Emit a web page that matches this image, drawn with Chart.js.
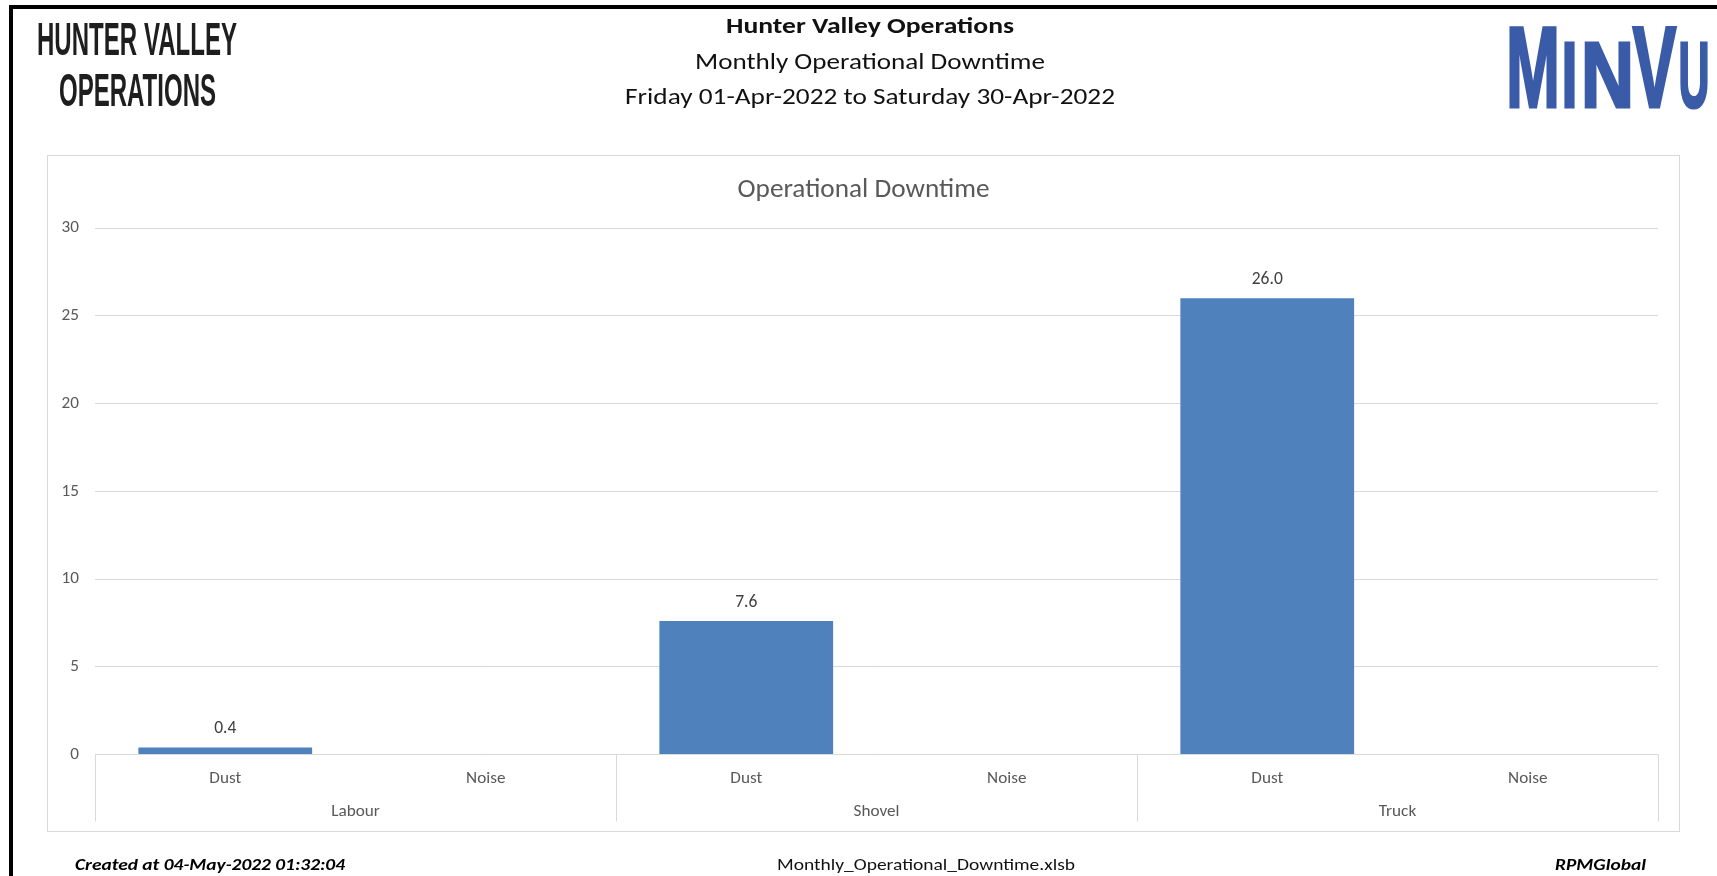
<!DOCTYPE html>
<html>
<head>
<meta charset="utf-8">
<script src="https://cdn.jsdelivr.net/npm/chart.js@4.4.1/dist/chart.umd.min.js"></script>
<style>
html,body{margin:0;padding:0;background:#fff;}
body{width:1717px;height:876px;position:relative;overflow:hidden;}
#frame{position:absolute;left:9px;top:5px;width:2000px;height:1000px;border-left:4px solid #000;border-top:4px solid #000;}
#box{position:absolute;left:47px;top:155px;width:1631px;height:675px;border:1px solid #d9d9d9;}
#chart{position:absolute;left:0;top:0;}
svg{position:absolute;left:0;top:0;}
</style>
</head>
<body>
<div id="frame"></div>
<div id="box"><canvas id="chart" width="1631" height="675"></canvas></div>
<svg width="1717" height="876" xmlns="http://www.w3.org/2000/svg">
  <g font-family="'Liberation Sans Narrow','Liberation Sans',Arial,sans-serif" font-weight="bold" fill="#1e1e1e">
    <text x="37" y="55" font-size="46" textLength="200" lengthAdjust="spacingAndGlyphs">HUNTER VALLEY</text>
    <text x="59" y="106" font-size="46" textLength="157" lengthAdjust="spacingAndGlyphs">OPERATIONS</text>
  </g>
  <g font-family="'Liberation Sans','Arial',sans-serif" font-weight="bold" fill="#3A5BA7" stroke="#3A5BA7" stroke-width="3" stroke-linejoin="miter">
    <text class="fit" data-x="1506" data-w="54" y="106.5" font-size="115">M</text>
    <text class="fit" data-x="1561.5" data-w="16" y="106.5" font-size="93">I</text>
    <text class="fit" data-x="1581" data-w="53" y="106.5" font-size="93">N</text>
    <text class="fit" data-x="1632.5" data-w="44" y="106.5" font-size="115">V</text>
    <text class="fit" data-x="1678.5" data-w="31" y="106.5" font-size="93">U</text>
  </g>
  <g font-family="Carlito, Lato, sans-serif" fill="#111" text-anchor="middle">
    <text x="870" y="33" font-size="23" font-weight="bold" textLength="288" lengthAdjust="spacingAndGlyphs">Hunter Valley Operations</text>
    <text x="870" y="69" font-size="23" textLength="350" lengthAdjust="spacingAndGlyphs">Monthly Operational Downtime</text>
    <text x="870" y="104" font-size="23" textLength="490" lengthAdjust="spacingAndGlyphs">Friday 01-Apr-2022 to Saturday 30-Apr-2022</text>
  </g>
  <g font-family="Carlito, Lato, sans-serif" fill="#000" font-size="17">
    <text x="75" y="870" font-style="italic" font-weight="bold" textLength="270" lengthAdjust="spacingAndGlyphs">Created at 04-May-2022 01:32:04</text>
    <text x="926" y="870" text-anchor="middle" textLength="298" lengthAdjust="spacingAndGlyphs" fill="#111">Monthly_Operational_Downtime.xlsb</text>
    <text x="1646" y="870" text-anchor="end" font-style="italic" font-weight="bold" textLength="91" lengthAdjust="spacingAndGlyphs">RPMGlobal</text>
  </g>
</svg>
<script>
// ---- data ----
const categories = ['Dust', 'Noise', 'Dust', 'Noise', 'Dust', 'Noise'];
const categoryGroups = ['Labour', 'Labour', 'Shovel', 'Shovel', 'Truck', 'Truck'];
const downtime = [0.4, null, 7.6, null, 26.0, null];
const yTickValues = [0, 5, 10, 15, 20, 25, 30];
const chartTitle = 'Operational Downtime';

// ---- logo letter fitting (layout only) ----
document.querySelectorAll('text.fit').forEach(el => {
  const x = parseFloat(el.dataset.x), w = parseFloat(el.dataset.w);
  const y = el.getAttribute('y');
  const nat = el.getComputedTextLength();
  el.setAttribute('x', 0);
  el.setAttribute('y', 0);
  el.setAttribute('transform', 'translate(' + x + ',' + y + ') scale(' + (w / nat) + ',1)');
});

// ---- styling helpers ----
const FONT = 'Carlito, Lato, sans-serif';
function fitSize(text, weight, target) {
  const c = document.createElement('canvas').getContext('2d');
  c.font = weight + ' 100px ' + FONT;
  return 100 * target / c.measureText(text).width;
}
const titleSize = fitSize(chartTitle, 'normal', 252);
const tickSize = fitSize('Shovel', 'normal', 46);
const labelSize = fitSize('26.0', 'normal', 31);

const groupPlugin = {
  id: 'groupAxis',
  afterDraw(chart) {
    const { ctx, chartArea, scales: { x } } = chart;
    const half = (x.getPixelForValue(1) - x.getPixelForValue(0)) / 2;
    const y0 = chartArea.bottom;
    const spans = [];
    categoryGroups.forEach((g, i) => {
      if (!spans.length || spans[spans.length - 1].g !== g) spans.push({ g, s: i, e: i });
      else spans[spans.length - 1].e = i;
    });
    ctx.save();
    ctx.strokeStyle = '#d9d9d9';
    ctx.lineWidth = 1;
    const edges = [x.getPixelForValue(spans[0].s) - half].concat(spans.map(s => x.getPixelForValue(s.e) + half));
    edges.forEach(px => {
      const p = Math.round(px) + 0.5;
      ctx.beginPath();
      ctx.moveTo(p, y0);
      ctx.lineTo(p, y0 + 67);
      ctx.stroke();
    });
    ctx.fillStyle = '#595959';
    ctx.font = tickSize + 'px ' + FONT;
    ctx.textAlign = 'center';
    ctx.textBaseline = 'middle';
    spans.forEach(s => ctx.fillText(s.g, (x.getPixelForValue(s.s) + x.getPixelForValue(s.e)) / 2, y0 + 57.5));
    ctx.restore();
  }
};

const valueLabelPlugin = {
  id: 'valueLabels',
  afterDatasetsDraw(chart) {
    const { ctx } = chart;
    const meta = chart.getDatasetMeta(0);
    ctx.save();
    ctx.fillStyle = '#404040';
    ctx.font = labelSize + 'px ' + FONT;
    ctx.textAlign = 'center';
    ctx.textBaseline = 'middle';
    meta.data.forEach((bar, i) => {
      const v = downtime[i];
      if (v === null || v === undefined) return;
      ctx.fillText(v.toFixed(1), bar.x, bar.y - 18.5);
    });
    ctx.restore();
  }
};

new Chart(document.getElementById('chart'), {
  type: 'bar',
  data: {
    labels: categories,
    datasets: [{
      data: downtime,
      backgroundColor: '#4F81BD',
      borderWidth: 0,
      barPercentage: 0.667,
      categoryPercentage: 1,
      yAxisID: 'y'
    }]
  },
  options: {
    responsive: false,
    animation: false,
    layout: { padding: 0 },
    plugins: {
      legend: { display: false },
      tooltip: { enabled: false },
      title: {
        display: true,
        text: chartTitle,
        color: '#595959',
        font: { family: FONT, size: titleSize, weight: 'normal' },
        padding: { top: 18, bottom: 72 - 18 - titleSize * 1.2 }
      }
    },
    scales: {
      x: {
        grid: { display: false },
        border: { display: false },
        ticks: { color: '#595959', font: { family: FONT, size: tickSize }, padding: 5.5, maxRotation: 0, autoSkip: false },
        afterFit(s) { s.height = 76.5; }
      },
      y: {
        min: yTickValues[0],
        max: yTickValues[yTickValues.length - 1],
        grid: { color: '#d9d9d9', drawTicks: false, lineWidth: 1 },
        border: { display: false },
        ticks: { color: '#595959', font: { family: FONT, size: tickSize }, padding: 16 },
        afterFit(s) { s.width = 47; },
        afterBuildTicks(s) { s.ticks = yTickValues.map(v => ({ value: v })); }
      },
      yRight: {
        type: 'linear',
        position: 'right',
        grid: { display: false, drawTicks: false },
        border: { display: false },
        ticks: { display: false },
        afterFit(s) { s.width = 21; }
      }
    }
  },
  plugins: [groupPlugin, valueLabelPlugin]
});
</script>
</body>
</html>
